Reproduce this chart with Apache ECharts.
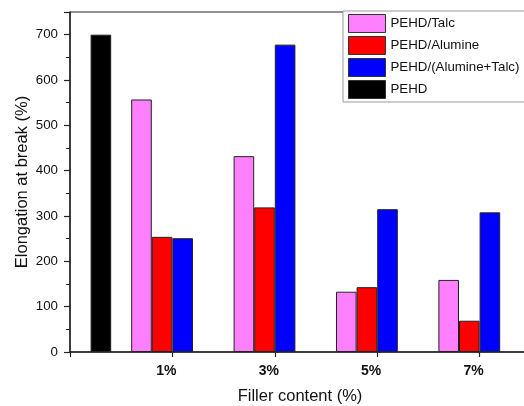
<!DOCTYPE html>
<html>
<head>
<meta charset="utf-8">
<script src="https://cdn.jsdelivr.net/npm/echarts@6/dist/echarts.min.js"></script>
<style>html,body{margin:0;padding:0;background:#fff;}#c{width:524px;height:406px;}</style>
</head>
<body>
<div id="c"></div>
<script>
var categories = ['', '1%', '3%', '5%', '7%', ' '];
var talc = [null, 557, 432, 133, 159, null];
var alumine = [null, 254, 319, 143, 69, null];
var alumineTalc = [null, 251, 678, 315, 308, null];
var pehd = [700, null, null, null, null, null];
var seriesNames = ['PEHD/Talc', 'PEHD/Alumine', 'PEHD/(Alumine+Talc)', 'PEHD'];
var colors = ['#FF80FF', '#FF0000', '#0000FF', '#000000'];
var yTicks = [0, 100, 200, 300, 400, 500, 600, 700];

var chart = echarts.init(document.getElementById('c'), null, {renderer: 'canvas'});
var font = '"Liberation Sans", Arial, sans-serif';
var dataSets = [talc, alumine, alumineTalc, pehd];
var series = dataSets.map(function (d, i) {
  return {
    name: seriesNames[i],
    type: 'bar',
    data: d,
    barWidth: 20.6,
    barGap: '0%',
    itemStyle: {color: colors[i], borderColor: '#222', borderWidth: 1},
    animation: false
  };
});

chart.setOption({
  animation: false,
  color: colors,
  grid: {left: 70, top: 12, width: 512, height: 340, outerBoundsMode: 'none', containLabel: false,
         show: true, borderColor: '#222', borderWidth: 1},
  legend: {
    orient: 'vertical', left: 343, top: 11,
    itemWidth: 37, itemHeight: 18, itemGap: 3,
    padding: [3, 80, 3, 5],
    backgroundColor: '#fff', borderColor: '#999', borderWidth: 1,
    icon: 'rect',
    itemStyle: {borderColor: '#333', borderWidth: 1},
    textStyle: {fontFamily: font, fontSize: 13.3, color: '#111'},
    data: seriesNames
  },
  xAxis: {
    type: 'category',
    data: categories,
    boundaryGap: false,
    name: 'Filler content (%)',
    nameLocation: 'middle',
    nameGap: 36,
    nameMoveOverlap: false,
    nameTextStyle: {fontFamily: font, fontSize: 16.5, color: '#111', padding: [0, 52, 0, 0]},
    axisLine: {lineStyle: {color: '#222', width: 1.5}},
    axisTick: {show: true, length: 5, inside: false, lineStyle: {color: '#222', width: 1.2}},
    axisLabel: {fontFamily: font, fontSize: 14, fontWeight: 'bold', color: '#111', margin: 12, interval: 0,
                padding: [0, 12, 0, 0]},
    splitLine: {show: false}
  },
  yAxis: {
    type: 'value',
    min: 0, max: 750, interval: 100,
    name: 'Elongation at break (%)',
    nameLocation: 'middle',
    nameGap: 39,
    nameMoveOverlap: false,
    nameTextStyle: {fontFamily: font, fontSize: 16.5, color: '#111'},
    axisLine: {show: true, lineStyle: {color: '#222', width: 1.5}},
    axisTick: {show: true, length: 6, inside: false, lineStyle: {color: '#222', width: 1.2}},
    minorTick: {show: true, splitNumber: 2, length: 4, lineStyle: {color: '#222', width: 1}},
    axisLabel: {
      fontFamily: font, fontSize: 13.3, color: '#111', margin: 12, showMaxLabel: false,
      formatter: function (v) { return yTicks.indexOf(v) >= 0 ? String(v) : ''; }
    },
    splitLine: {show: false},
    minorSplitLine: {show: false}
  },
  series: series
});
</script>
</body>
</html>
